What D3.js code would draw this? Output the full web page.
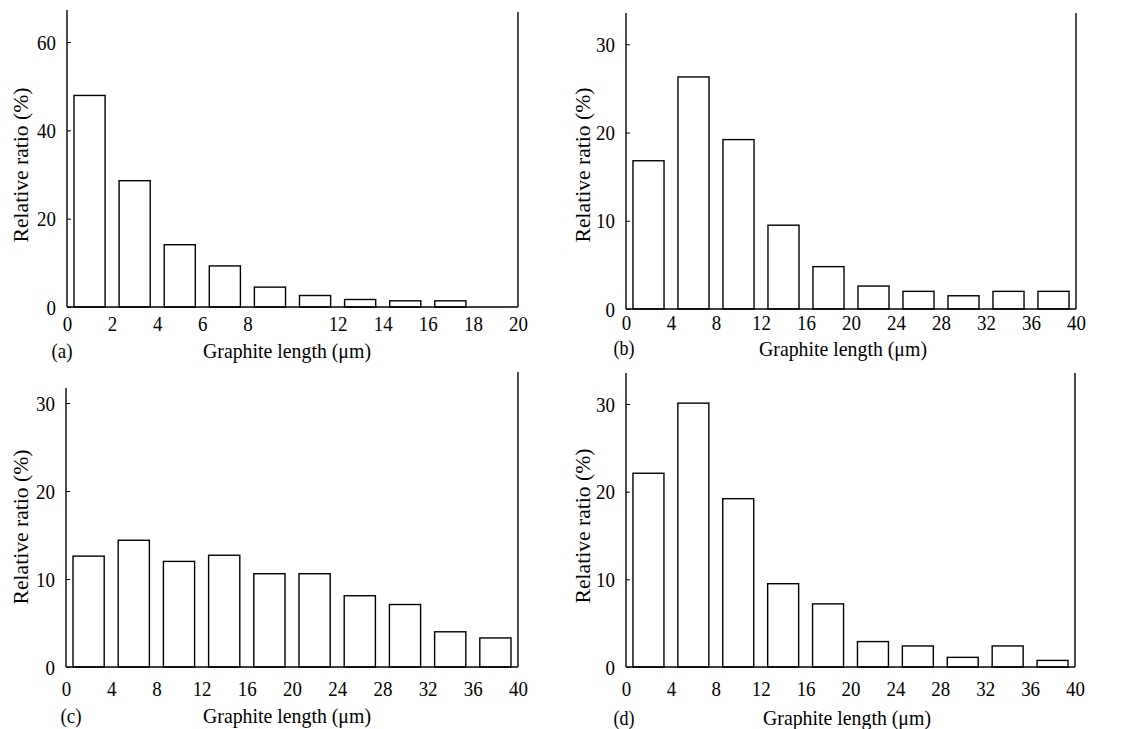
<!DOCTYPE html>
<html>
<head>
<meta charset="utf-8">
<script src="https://cdn.jsdelivr.net/npm/d3@7"></script>
<style>
  html, body { margin: 0; padding: 0; background: #fff; }
  svg text { font-family: "Liberation Serif", "Times New Roman", serif; fill: #000; }
</style>
</head>
<body>
<svg id="chart" width="1135" height="729"></svg>
<script>
// ---------------- data ----------------
const binEdgesA = [0, 2, 4, 6, 8, 10, 12, 14, 16];
const binWidthA = 2;
const valuesA = [47.9, 28.6, 14.1, 9.3, 4.5, 2.6, 1.7, 1.4, 1.4];
const xTicksA = [0, 2, 4, 6, 8, 12, 14, 16, 18, 20];
const yTicksA = [0, 20, 40, 60];

const binEdges40 = [0, 4, 8, 12, 16, 20, 24, 28, 32, 36];
const binWidth40 = 4;
const valuesB = [16.8, 26.3, 19.2, 9.5, 4.8, 2.6, 2.0, 1.5, 2.0, 2.0];
const valuesC = [12.6, 14.4, 12.0, 12.7, 10.6, 10.6, 8.1, 7.1, 4.0, 3.3];
const valuesD = [22.1, 30.1, 19.2, 9.5, 7.2, 2.9, 2.4, 1.1, 2.4, 0.75];
const xTicks40 = [0, 4, 8, 12, 16, 20, 24, 28, 32, 36, 40];
const yTicks30 = [0, 10, 20, 30];

const panelLetters = ["(a)", "(b)", "(c)", "(d)"];
const xTitle = "Graphite length (\u03bcm)";
const yTitle = "Relative ratio (%)";

// ---------------- layout ----------------
const panels = [
  { letter: panelLetters[0], edges: binEdgesA, bw: binWidthA, values: valuesA, xTicks: xTicksA, yTicks: yTicksA,
    xMax: 20, yTop: 60, left: 67, right: 518, base: 307, yTopPx: 42, axisTopL: 10, axisTopR: 12,
    tickY: 323, titleX: 287, titleY: 350, letterX: 62, letterY: 350, yTitleX: 20, yTitleY: 165 },
  { letter: panelLetters[1], edges: binEdges40, bw: binWidth40, values: valuesB, xTicks: xTicks40, yTicks: yTicks30,
    xMax: 40, yTop: 30, left: 626, right: 1076, base: 309, yTopPx: 44.3, axisTopL: 13, axisTopR: 13,
    tickY: 322, titleX: 843, titleY: 348, letterX: 624, letterY: 347, yTitleX: 582, yTitleY: 165 },
  { letter: panelLetters[2], edges: binEdges40, bw: binWidth40, values: valuesC, xTicks: xTicks40, yTicks: yTicks30,
    xMax: 40, yTop: 30, left: 66, right: 518, base: 667, yTopPx: 403, axisTopL: 388, axisTopR: 372,
    tickY: 688, titleX: 287, titleY: 715, letterX: 71, letterY: 715, yTitleX: 20, yTitleY: 527 },
  { letter: panelLetters[3], edges: binEdges40, bw: binWidth40, values: valuesD, xTicks: xTicks40, yTicks: yTicks30,
    xMax: 40, yTop: 30, left: 626, right: 1075, base: 667, yTopPx: 404, axisTopL: 373, axisTopR: 373,
    tickY: 688, titleX: 847, titleY: 717, letterX: 624, letterY: 717, yTitleX: 582, yTitleY: 526 }
];

const barFrac = 0.69;
const tickFont = 22;
const squeeze = 0.86;
const svg = d3.select("#chart");

panels.forEach(p => {
  const g = svg.append("g");
  const x = d3.scaleLinear().domain([0, p.xMax]).range([p.left, p.right]);
  const y = d3.scaleLinear().domain([0, p.yTop]).range([p.base, p.yTopPx]);

  // bars
  g.selectAll("rect.bar").data(p.values.map((v, i) => ({ v, lo: p.edges[i] })))
    .enter().append("rect")
    .attr("class", "bar")
    .attr("x", d => x(d.lo + p.bw * (1 - barFrac) / 2))
    .attr("width", d => x(d.lo + p.bw * (1 + barFrac) / 2) - x(d.lo + p.bw * (1 - barFrac) / 2))
    .attr("y", d => y(d.v))
    .attr("height", d => y(0) - y(d.v))
    .attr("fill", "#fff")
    .attr("stroke", "#000")
    .attr("stroke-width", 1.4);

  // frame lines
  g.append("line").attr("x1", p.left).attr("x2", p.left).attr("y1", p.base).attr("y2", p.axisTopL)
    .attr("stroke", "#000").attr("stroke-width", 1.4);
  g.append("line").attr("x1", p.right).attr("x2", p.right).attr("y1", p.base).attr("y2", p.axisTopR)
    .attr("stroke", "#000").attr("stroke-width", 1.4);
  g.append("line").attr("x1", p.left).attr("x2", p.right).attr("y1", p.base).attr("y2", p.base)
    .attr("stroke", "#000").attr("stroke-width", 1.6);

  // y axis
  const ya = g.append("g").attr("transform", `translate(${p.left},0)`)
    .call(d3.axisLeft(y).tickValues(p.yTicks).tickSizeInner(-4).tickSizeOuter(0).tickPadding(11));
  ya.select(".domain").remove();
  ya.selectAll(".tick line").attr("stroke", "#000").attr("stroke-width", 1);
  ya.selectAll(".tick text").attr("font-size", tickFont).attr("font-family", null)
    .attr("x", -11 / squeeze).attr("transform", `scale(${squeeze},1)`);

  // x axis
  const xa = g.append("g").attr("transform", `translate(0,${p.base})`)
    .call(d3.axisBottom(x).tickValues(p.xTicks).tickSize(0).tickFormat(d3.format("d")));
  xa.select(".domain").remove();
  xa.selectAll(".tick text").attr("font-size", tickFont).attr("font-family", null)
    .attr("y", p.tickY - p.base).attr("dy", "0.35em").attr("transform", `scale(${squeeze},1)`);

  // titles
  g.append("text").attr("x", p.titleX).attr("y", p.titleY).attr("dy", "0.35em")
    .attr("text-anchor", "middle").attr("font-size", 22)
    .attr("textLength", 168).attr("lengthAdjust", "spacingAndGlyphs")
    .text(xTitle);
  g.append("text").attr("transform", `translate(${p.yTitleX},${p.yTitleY}) rotate(-90)`)
    .attr("dy", "0.35em").attr("text-anchor", "middle").attr("font-size", 22)
    .attr("textLength", 155).attr("lengthAdjust", "spacingAndGlyphs")
    .text(yTitle);
  g.append("text").attr("x", p.letterX).attr("y", p.letterY).attr("dy", "0.35em")
    .attr("text-anchor", "middle").attr("font-size", 22)
    .attr("textLength", 21).attr("lengthAdjust", "spacingAndGlyphs")
    .text(p.letter);
});
</script>
</body>
</html>
